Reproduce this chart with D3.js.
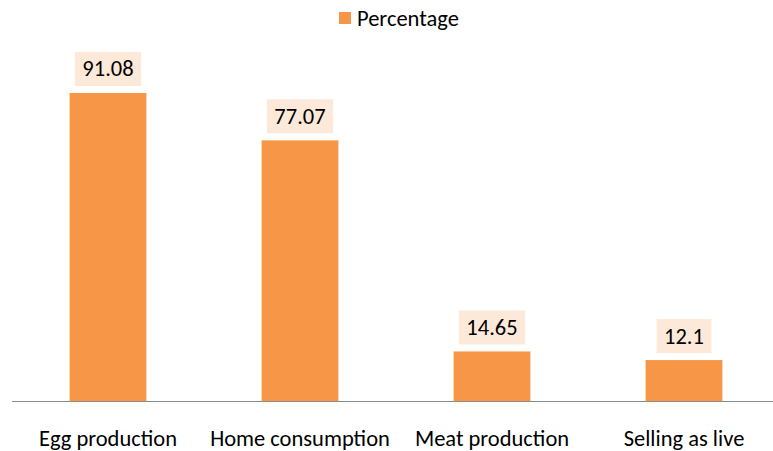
<!DOCTYPE html>
<html>
<head>
<meta charset="utf-8">
<script src="https://cdn.jsdelivr.net/npm/d3@7"></script>
<style>
  html, body { margin: 0; padding: 0; background: #fff; }
  svg { display: block; }
  text { font-family: Carlito, Lato, "Open Sans", sans-serif; fill: #000; }
</style>
</head>
<body>
<svg id="chart" width="773" height="451"></svg>
<script>
const categories = ["Egg production", "Home consumption", "Meat production", "Selling as live"];
const values = [91.08, 77.07, 14.65, 12.1];
const valueLabels = ["91.08", "77.07", "14.65", "12.1"];
const seriesName = "Percentage";

const barColor = "#F79646";
const labelBg = "#FDE9D9";
const fs = "22.5px";

const svg = d3.select("#chart");
const baseY = 401;

const x = d3.scaleBand().domain(categories).range([12, 780]).paddingInner(0.6).paddingOuter(0.3);
const y = d3.scaleLinear().domain([0, 100]).range([baseY, 62.8]);

const data = categories.map((c, i) => ({ c, v: values[i], l: valueLabels[i] }));

// bars
svg.append("g").selectAll("rect").data(data).join("rect")
  .attr("x", d => x(d.c))
  .attr("y", d => y(d.v))
  .attr("width", x.bandwidth())
  .attr("height", d => y(0) - y(d.v))
  .attr("fill", barColor);

// axis line
svg.append("line")
  .attr("x1", 12).attr("x2", 773)
  .attr("y1", baseY + 0.5).attr("y2", baseY + 0.5)
  .attr("stroke", "#8c8c8c").attr("stroke-width", 1.2);

// category labels
svg.append("g").selectAll("text").data(data).join("text")
  .attr("x", d => x(d.c) + x.bandwidth() / 2)
  .attr("y", 438)
  .attr("text-anchor", "middle")
  .attr("dominant-baseline", "central")
  .style("font-size", fs)
  .text(d => d.c);

// value labels with background
const lg = svg.append("g").selectAll("g").data(data).join("g");
lg.each(function(d) {
  const g = d3.select(this);
  const cx = x(d.c) + x.bandwidth() / 2;
  const bottom = y(d.v) - 7;
  const t = g.append("text")
    .attr("x", cx)
    .attr("y", bottom - 17)
    .attr("text-anchor", "middle")
    .attr("dominant-baseline", "central")
    .style("font-size", fs)
    .text(d.l);
  const w = t.node().getComputedTextLength() + 15;
  g.insert("rect", "text")
    .attr("x", cx - w / 2)
    .attr("y", bottom - 34)
    .attr("width", w)
    .attr("height", 34)
    .attr("fill", labelBg);
});

// legend
svg.append("rect").attr("x", 339).attr("y", 12).attr("width", 12).attr("height", 12).attr("fill", barColor);
svg.append("text").attr("x", 357).attr("y", 18).attr("dominant-baseline", "central")
  .style("font-size", fs).text(seriesName);
</script>
</body>
</html>
